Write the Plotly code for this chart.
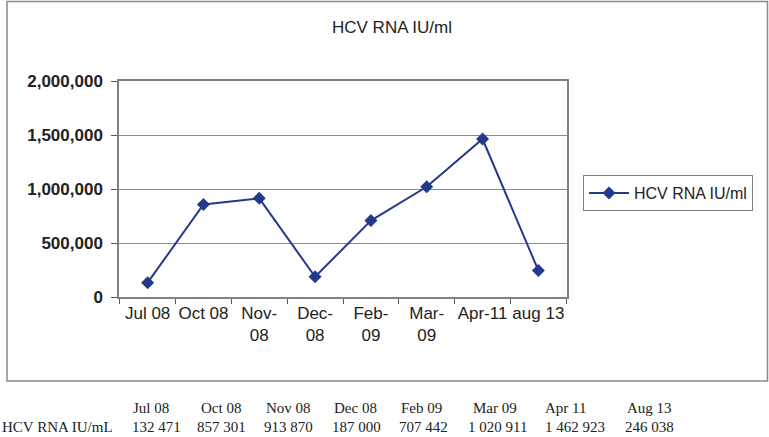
import plotly.graph_objects as go

W, H = 769, 437

categories = ["Jul 08", "Oct 08", "Nov-<br>08", "Dec-<br>08", "Feb-<br>09", "Mar-<br>09", "Apr-11", "aug 13"]
values = [132471, 857301, 913870, 187000, 707442, 1020911, 1462923, 246038]
series_name = "HCV RNA IU/ml"
title_text = "HCV RNA IU/ml"

table_header = ["Jul 08", "Oct 08", "Nov 08", "Dec 08", "Feb 09", "Mar 09", "Apr 11", "Aug 13"]
table_values = ["132 471", "857 301", "913 870", "187 000", "707 442", "1 020 911", "1 462 923", "246 038"]
table_row_label = "HCV RNA IU/mL"

# layout positions (pixels) for the table columns
header_px = [151, 221, 288, 355, 421, 495, 566, 649]
value_px = [156, 222, 288, 356, 423, 497, 575, 649]

def px(x):
    return x / W

def py(y):
    return 1 - y / H

fig = go.Figure()
fig.add_trace(go.Scatter(
    x=categories, y=values, name=series_name, mode="lines+markers",
    line=dict(color="#24398C", width=2),
    marker=dict(symbol="diamond", size=10, color="#24398C"),
    showlegend=True,
))

fig.update_layout(
    width=W, height=H,
    margin=dict(l=0, r=0, t=0, b=0),
    paper_bgcolor="white", plot_bgcolor="white",
    font=dict(family="Liberation Sans, Arial, sans-serif", color="#222222"),
    xaxis=dict(
        domain=[px(119), px(567)],
        type="category",
        tickson="boundaries",
        tickangle=0,
        ticks="outside", ticklen=5, tickcolor="#555555",
        showline=True, linecolor="#808080", linewidth=1.5, mirror=True,
        showgrid=False,
        tickfont=dict(size=17, color="#222222"),
        automargin=False,
    ),
    yaxis=dict(
        domain=[py(297), py(81)],
        range=[0, 2000000],
        tickvals=[0, 500000, 1000000, 1500000, 2000000],
        tickformat=",d",
        ticks="outside", ticklen=6, tickcolor="#555555",
        ticklabelstandoff=5,
        showline=True, linecolor="#808080", linewidth=1.5, mirror=True,
        showgrid=True, gridcolor="#8a8a8a", gridwidth=1,
        zeroline=False,
        tickfont=dict(size=17, color="#222222", weight="bold"),
        automargin=False,
    ),
    legend=dict(
        x=px(583), y=py(175), xanchor="left", yanchor="top",
        bordercolor="#808080", borderwidth=1, bgcolor="white",
        font=dict(size=16, color="#222222"),
        itemwidth=40,
        entrywidth=180,
    ),
)

# outer chart border
fig.add_shape(type="rect", xref="paper", yref="paper",
              x0=px(7), x1=px(767.5), y0=py(381), y1=py(1.5),
              line=dict(color="#8a8a8a", width=1.5))

# title
fig.add_annotation(text=title_text, xref="paper", yref="paper",
                   x=px(392), y=py(27), xanchor="center", yanchor="middle",
                   showarrow=False, font=dict(size=17, color="#222222"))

# table below chart
serif = "Liberation Serif, Times New Roman, serif"
for hx, vx, h, v in zip(header_px, value_px, table_header, table_values):
    fig.add_annotation(text=h, xref="paper", yref="paper", x=px(hx), y=py(408),
                       xanchor="center", yanchor="middle", showarrow=False,
                       font=dict(family=serif, size=15, color="#222222"))
    fig.add_annotation(text=v, xref="paper", yref="paper", x=px(vx), y=py(427),
                       xanchor="center", yanchor="middle", showarrow=False,
                       font=dict(family=serif, size=15, color="#222222"))
fig.add_annotation(text=table_row_label, xref="paper", yref="paper", x=0, y=py(427),
                   xanchor="left", yanchor="middle", showarrow=False,
                   font=dict(family=serif, size=15, color="#222222"))

fig.write_html(
    "out.html",
    config={"displayModeBar": False},
    post_script="document.body.style.margin='0';document.body.style.overflow='hidden';",
)
